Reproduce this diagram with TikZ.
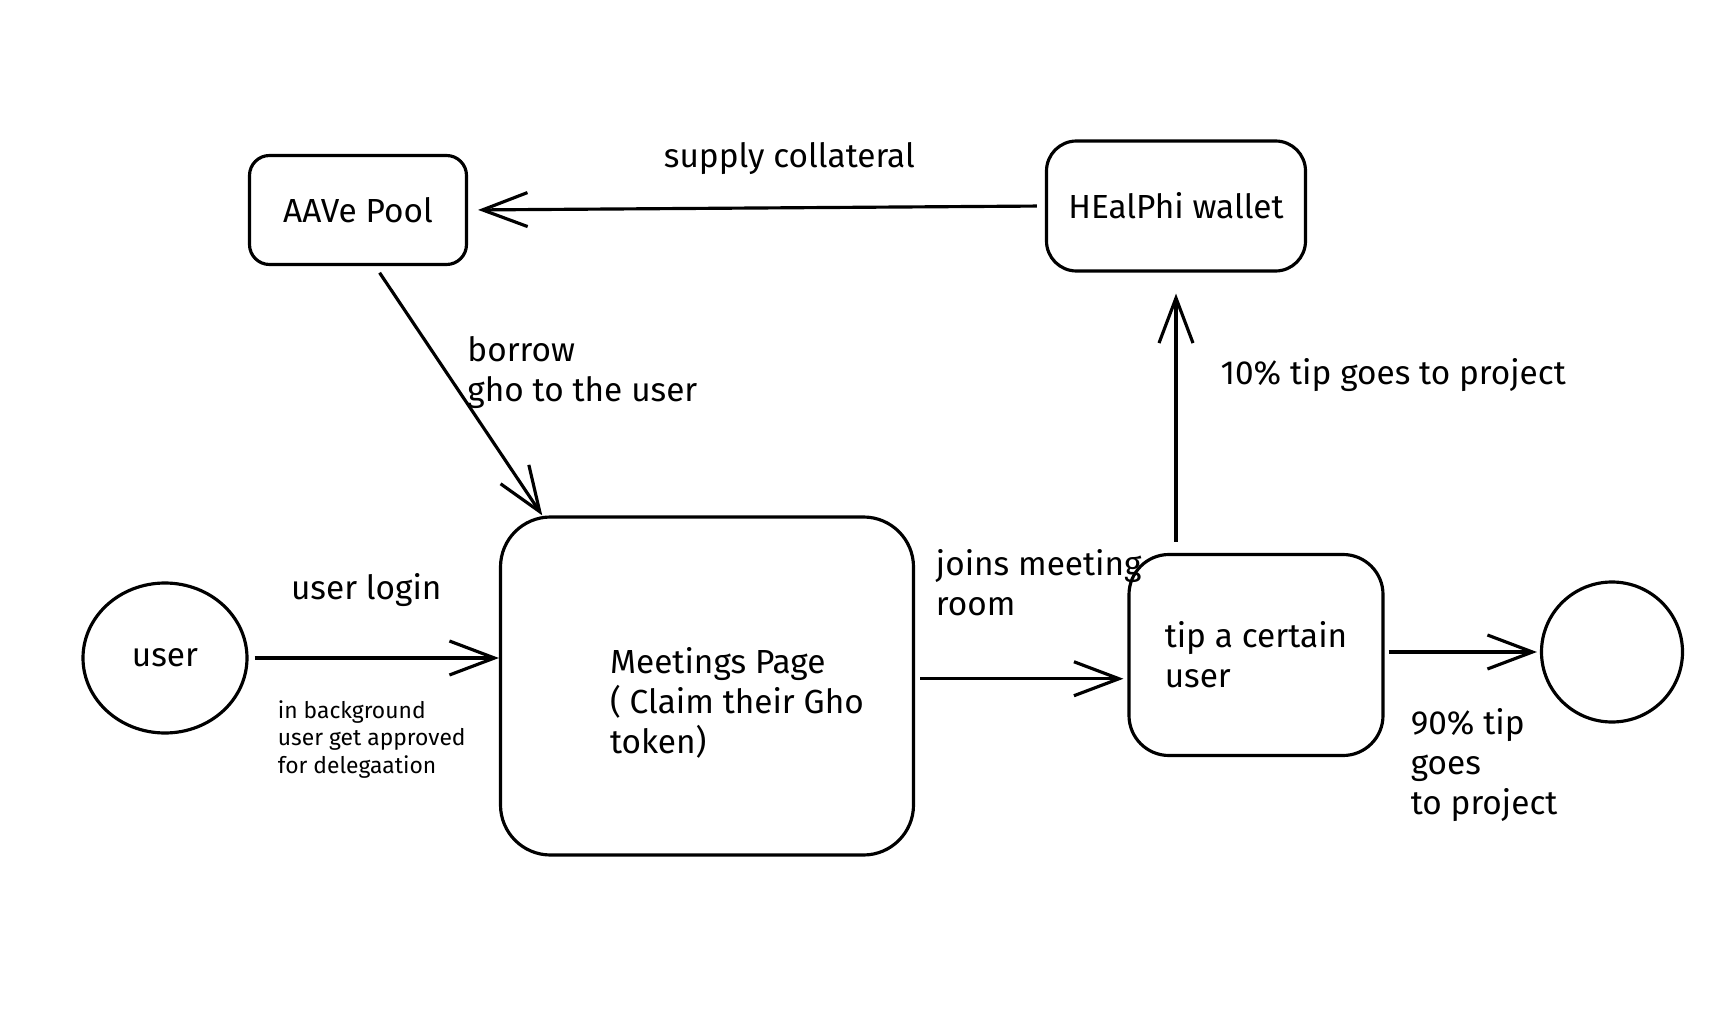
\documentclass[tikz,border=0pt]{standalone}
\usepackage{fontspec}
\setmainfont{Fira Sans}
\usetikzlibrary{arrows.meta, positioning, shapes.geometric}

\begin{document}
\begin{tikzpicture}[font=\fontsize{9.5}{11.4}\selectfont,
    block/.style = {draw, line width=0.9pt, rounded corners=#1},
    round/.style = {draw, line width=0.9pt, ellipse},
    flow/.style = {line width=0.9pt, -{Straight Barb[length=4.5mm, width=3.4mm]}},
    note/.style = {inner sep=1pt, align=left}]
    \useasboundingbox (0,0) rectangle (17.26,10.24);

    \node[block=2mm, minimum width=21.7mm, minimum height=10.9mm] (pool) at (3.58,8.14) {AAVe Pool};
    \node[block=3mm, minimum width=25.9mm, minimum height=13mm] (wallet) at (11.76,8.18) {HEalPhi wallet};
    \node[block=5mm, minimum width=41.3mm, minimum height=33.8mm, align=left] (meet) at (7.07,3.38)
        {\rule{0pt}{17pt}\hspace*{6mm}Meetings Page\\\hspace*{6mm}( Claim their Gho\\\hspace*{6mm}token)};
    \node[block=4mm, minimum width=25.4mm, minimum height=20.1mm, align=left] (tip) at (12.56,3.69) {tip a certain\\user};
    \node[round, minimum width=16.4mm, minimum height=15mm] (user) at (1.65,3.66) {user};
    \node[round, minimum width=14.1mm, minimum height=14mm] (project) at (16.12,3.72) {};

    \path[flow, shorten <=0.8mm, shorten >=1mm] (wallet.west) edge node[note, above=2.8mm, pos=0.443] {supply collateral} (pool.east);
    \path[flow, shorten <=0.8mm] (pool.-73) edge node[note, right=1.6mm, pos=0.426] {borrow\\gho to the user} (meet.134);

    \path[flow, shorten <=0.6mm] (user.east) edge node[note, above=4.65mm, pos=0.47] {user login}
        node[note, anchor=north west, pos=0.0965, yshift=-3.75mm, font=\fontsize{6.5}{7.8}\selectfont]
            {in background\\user get approved\\for delegaation} (meet.west |- user.east);
    \path[flow, shorten <=0.5mm, shorten >=0.4mm] (meet.2) edge node[note, anchor=south west, pos=0.074, yshift=5.8mm] {joins meeting\\room} (tip.west |- meet.2);

    \path[flow, shorten <=1.1mm, shorten >=2.1mm] (wallet.south |- tip.north) edge node[note, right=3.95mm, pos=0.636] {10\% tip goes to project} (wallet.south);
    \path[flow, shorten <=0.4mm, shorten >=0.3mm] (tip.east |- project.west) edge node[note, anchor=north west, pos=0.136, yshift=-5.15mm] {90\% tip\\goes\\to project} (project.west);
\end{tikzpicture}
\end{document}
